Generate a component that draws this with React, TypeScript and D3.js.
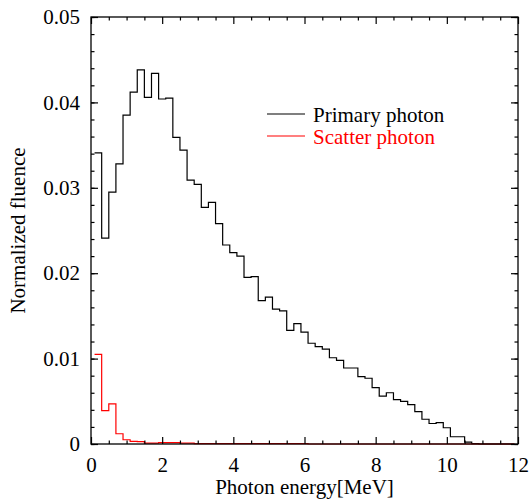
import React, { useRef, useEffect } from "react";
import * as d3 from "d3";

// lower edge of each 0.2 MeV energy bin
const binStart = [
  0.1, 0.3, 0.5, 0.7, 0.9, 1.1, 1.3, 1.5, 1.7, 1.9,
  2.1, 2.3, 2.5, 2.7, 2.9, 3.1, 3.3, 3.5, 3.7, 3.9,
  4.1, 4.3, 4.5, 4.7, 4.9, 5.1, 5.3, 5.5, 5.7, 5.9,
  6.1, 6.3, 6.5, 6.7, 6.9, 7.1, 7.3, 7.5, 7.7, 7.9,
  8.1, 8.3, 8.5, 8.7, 8.9, 9.1, 9.3, 9.5, 9.7, 9.9,
  10.1, 10.3, 10.5, 10.7, 10.9, 11.1, 11.3, 11.5, 11.7,
];
const binWidth = 0.2;

const primaryPhoton = [
  0.0341, 0.0241, 0.0295, 0.0328, 0.0385, 0.0412, 0.0438, 0.0406, 0.0434, 0.0404,
  0.0405, 0.0359, 0.0344, 0.0309, 0.0304, 0.0277, 0.0283, 0.0258, 0.0233, 0.0224,
  0.022, 0.0195, 0.0196, 0.0168, 0.0172, 0.0158, 0.0156, 0.0133, 0.0141, 0.0131,
  0.0118, 0.0114, 0.0111, 0.0101, 0.0098, 0.0089, 0.0089, 0.0079, 0.0077, 0.0066,
  0.0056, 0.006, 0.0052, 0.005, 0.0046, 0.0038, 0.0029, 0.0024, 0.0025, 0.0019,
  0.00085, 0.00085, 0.00023, 0.00005, 0, 0, 0, 0, 0,
];

const scatterPhoton = [
  0.0105, 0.0039, 0.0047, 0.0012, 0.0005, 0.0003, 0.00027, 0.0001, 0.0001, 0.00015,
  0.00015, 0.00015, 0.0001, 0.0001, 0.00005, 0.00005, 0.00005, 0.00005, 0.00005, 0.00005,
  0.00005, 0.00005, 0.00005, 0.00005, 0.00005, 0.00005, 0.00005, 0.00005, 0.00005, 0.00005,
  0, 0, 0, 0, 0, 0, 0, 0, 0, 0,
  0, 0, 0, 0, 0, 0, 0, 0, 0, 0,
  0, 0, 0, 0, 0, 0, 0, 0, 0,
];

const xTicks = [0, 2, 4, 6, 8, 10, 12];
const yTicks = [0, 0.01, 0.02, 0.03, 0.04, 0.05];
const yTickLabels = ["0", "0.01", "0.02", "0.03", "0.04", "0.05"];

const series = [
  { name: "Primary photon", values: primaryPhoton, color: "#000000" },
  { name: "Scatter photon", values: scatterPhoton, color: "#ff0000" },
];

const FONT = "Liberation Serif, DejaVu Serif, serif";

const App = () => {
  const svgRef = useRef(null);

  useEffect(() => {
    const width = 531;
    const height = 500;
    const margin = { top: 17, right: 13, bottom: 56, left: 91 };

    const svg = d3.select(svgRef.current);
    svg.selectAll("*").remove();
    svg.attr("width", width).attr("height", height);

    const x = d3
      .scaleLinear()
      .domain([0, 12])
      .range([margin.left, width - margin.right]);
    const y = d3
      .scaleLinear()
      .domain([0, 0.05])
      .range([height - margin.bottom, margin.top]);

    // histograms as step lines
    const line = d3
      .line<[number, number]>()
      .x((d) => x(d[0]))
      .y((d) => y(d[1]))
      .curve(d3.curveStepAfter);

    series.forEach((s) => {
      const pts: [number, number][] = binStart.map((b, i) => [b, s.values[i]]);
      const last = binStart.length - 1;
      pts.push([binStart[last] + binWidth, s.values[last]]);
      svg
        .append("path")
        .attr("d", line(pts))
        .attr("fill", "none")
        .attr("stroke", s.color)
        .attr("stroke-width", 1.2);
    });

    // frame
    svg
      .append("rect")
      .attr("x", x(0))
      .attr("y", y(0.05))
      .attr("width", x(12) - x(0))
      .attr("height", y(0) - y(0.05))
      .attr("fill", "none")
      .attr("stroke", "#000")
      .attr("stroke-width", 1.3);

    const minorX = d3.range(0, 12.01, 0.5).filter((v) => !xTicks.includes(v));
    const minorY = d3.range(0, 0.0501, 0.002);

    const addAxis = (axis, transform) => {
      const g = svg.append("g").attr("transform", transform).call(axis);
      g.attr("font-family", null).attr("font-size", null);
      g.select(".domain").remove();
      g.selectAll("line").attr("stroke", "#000").attr("stroke-width", 1.2);
      return g;
    };

    // bottom and top ticks
    addAxis(
      d3.axisBottom(x).tickValues(minorX).tickSize(-3.5).tickFormat(() => ""),
      `translate(0,${y(0)})`
    );
    const xb = addAxis(
      d3.axisBottom(x).tickValues(xTicks).tickSize(-7).tickPadding(13).tickFormat(d3.format("d")),
      `translate(0,${y(0)})`
    );
    xb.selectAll("text").attr("fill", "#000");
    addAxis(
      d3.axisTop(x).tickValues(minorX).tickSize(-3.5).tickFormat(() => ""),
      `translate(0,${y(0.05)})`
    );
    addAxis(
      d3.axisTop(x).tickValues(xTicks).tickSize(-7).tickFormat(() => ""),
      `translate(0,${y(0.05)})`
    );

    // left and right ticks
    addAxis(
      d3.axisLeft(y).tickValues(minorY).tickSize(-3.5).tickFormat(() => ""),
      `translate(${x(0)},0)`
    );
    const yl = addAxis(
      d3
        .axisLeft(y)
        .tickValues(yTicks)
        .tickSize(-7)
        .tickPadding(11)
        .tickFormat((d, i) => yTickLabels[i]),
      `translate(${x(0)},0)`
    );
    yl.selectAll("text").attr("fill", "#000");
    addAxis(
      d3.axisRight(y).tickValues(minorY).tickSize(-3.5).tickFormat(() => ""),
      `translate(${x(12)},0)`
    );
    addAxis(
      d3.axisRight(y).tickValues(yTicks).tickSize(-7).tickFormat(() => ""),
      `translate(${x(12)},0)`
    );

    // axis titles
    svg
      .append("text")
      .attr("x", (x(0) + x(12)) / 2)
      .attr("y", 494)
      .attr("text-anchor", "middle")
      .text("Photon energy[MeV]");
    svg
      .append("text")
      .attr("transform", `translate(25,${(y(0) + y(0.05)) / 2}) rotate(-90)`)
      .attr("text-anchor", "middle")
      .text("Normalized fluence");

    // legend
    series.forEach((s, i) => {
      const ly = 114 + i * 22;
      svg
        .append("line")
        .attr("x1", 267)
        .attr("x2", 305)
        .attr("y1", ly)
        .attr("y2", ly)
        .attr("stroke", s.color)
        .attr("stroke-width", 1.2);
      svg
        .append("text")
        .attr("x", 313)
        .attr("y", ly + 7.5)
        .attr("fill", s.color)
        .text(s.name);
    });
  }, []);

  return (
    <svg
      ref={svgRef}
      style={{
        position: "absolute",
        left: 0,
        top: 0,
        background: "#fff",
        fontFamily: FONT,
        fontSize: 21,
      }}
    ></svg>
  );
};

export default App;
